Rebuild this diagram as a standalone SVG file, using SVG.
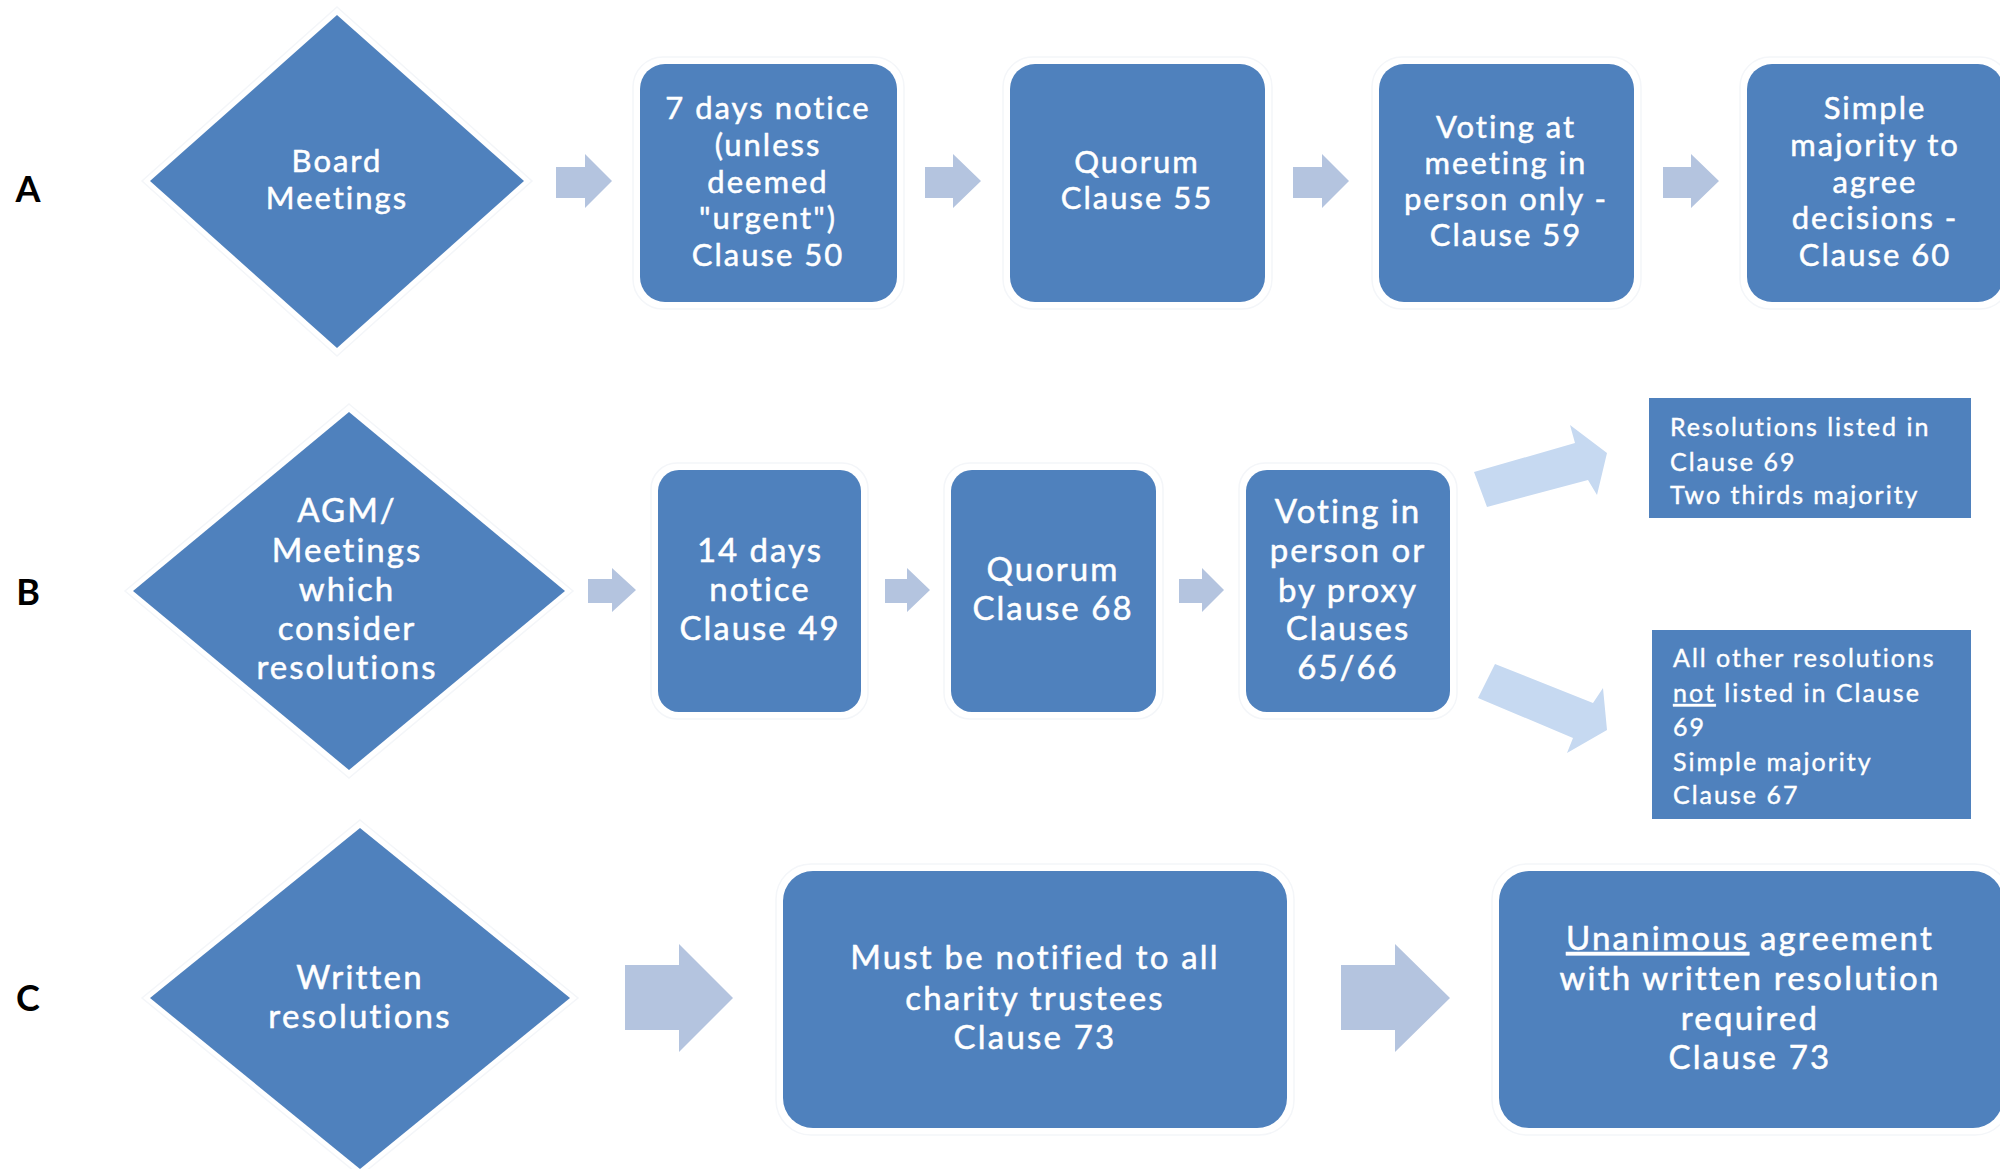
<svg xmlns="http://www.w3.org/2000/svg" width="2000" height="1169" viewBox="0 0 2000 1169">
<style>
.bg{fill:#ffffff}
.node{fill:#4F81BD}
.halo{fill:none;stroke:#F4F6F9;stroke-width:1.5}
.arr{fill:#B4C4DF}
.darr{fill:#C6D9F1}
.lbl{font-family:Lato,"Liberation Sans",sans-serif;font-size:36px;font-weight:bold;fill:#000;text-anchor:middle}
.t{font-family:Lato,"Liberation Sans",sans-serif;fill:#ffffff;stroke:#ffffff;stroke-width:0.5px;text-anchor:middle}
.ta{font-size:31px;letter-spacing:2px}
.tb{font-size:33px;letter-spacing:2px}
.tc{font-size:33px;letter-spacing:2.2px}
.ts{font-family:Lato,"Liberation Sans",sans-serif;fill:#ffffff;stroke:#ffffff;stroke-width:0.4px;font-size:25px;letter-spacing:2px}
.u{text-decoration:underline}
</style>
<rect class="bg" x="0" y="0" width="2000" height="1169"/>

<g id="labels">
<text class="lbl" x="28" y="202">A</text>
<text class="lbl" x="28" y="605">B</text>
<text class="lbl" x="28" y="1011">C</text>
</g>

<g id="connectors">
<polygon class="arr" points="556,167 585,167 585,154 612,181 585,208 585,198 556,198"/>
<polygon class="arr" points="925,167 953,167 953,154 981,181 953,208 953,198 925,198"/>
<polygon class="arr" points="1293,167 1322,167 1322,154 1349,181 1322,208 1322,198 1293,198"/>
<polygon class="arr" points="1663,167 1691,167 1691,154 1719,181 1691,208 1691,198 1663,198"/>
<polygon class="arr" points="588,579 612,579 612,568 636,590 612,612 612,603 588,603"/>
<polygon class="arr" points="885,579 907,579 907,568 930,590 907,612 907,603 885,603"/>
<polygon class="arr" points="1179,579 1202,579 1202,568 1224,590 1202,612 1202,603 1179,603"/>
<polygon class="darr" points="1474,472 1575,443 1570,425 1607,453 1597,495 1588,480 1487,507"/>
<polygon class="darr" points="1495,664 1593,703 1603,688 1607,730 1567,753 1573,738 1478,698"/>
<polygon class="arr" points="625,965 679,965 679,944 733,998 679,1052 679,1030 625,1030"/>
<polygon class="arr" points="1341,965 1395,965 1395,944 1450,998 1395,1052 1395,1030 1341,1030"/>
</g>

<g id="board-meetings">
<polygon class="halo" points="337,7 532,181 337,356 142,181"/>
<polygon class="node" points="337,15 524,181 337,348 150,181"/>
<text class="t ta" x="337" y="172">Board</text>
<text class="t ta" x="337" y="209">Meetings</text>
</g>

<g id="notice-7">
<rect class="halo" x="633" y="57" width="271" height="252" rx="30"/>
<rect class="node" x="640" y="64" width="257" height="238" rx="25"/>
<text class="t ta" x="768" y="119">7 days notice</text>
<text class="t ta" x="768" y="156">(unless</text>
<text class="t ta" x="768" y="193">deemed</text>
<text class="t ta" x="768" y="229">"urgent")</text>
<text class="t ta" x="768" y="266">Clause 50</text>
</g>

<g id="quorum-55">
<rect class="halo" x="1003" y="57" width="269" height="252" rx="30"/>
<rect class="node" x="1010" y="64" width="255" height="238" rx="25"/>
<text class="t ta" x="1137" y="173">Quorum</text>
<text class="t ta" x="1137" y="209">Clause 55</text>
</g>

<g id="voting-59">
<rect class="halo" x="1372" y="57" width="269" height="252" rx="30"/>
<rect class="node" x="1379" y="64" width="255" height="238" rx="25"/>
<text class="t ta" x="1506" y="138">Voting at</text>
<text class="t ta" x="1506" y="174">meeting in</text>
<text class="t ta" x="1506" y="210">person only -</text>
<text class="t ta" x="1506" y="246">Clause 59</text>
</g>

<g id="majority-60">
<rect class="halo" x="1740" y="57" width="270" height="252" rx="30"/>
<rect class="node" x="1747" y="64" width="256" height="238" rx="25"/>
<text class="t ta" x="1875" y="119">Simple</text>
<text class="t ta" x="1875" y="156">majority to</text>
<text class="t ta" x="1875" y="193">agree</text>
<text class="t ta" x="1875" y="229">decisions -</text>
<text class="t ta" x="1875" y="266">Clause 60</text>
</g>

<g id="agm-meetings">
<polygon class="halo" points="349,404 573,591 349,778 125,591"/>
<polygon class="node" points="349,412 565,591 349,770 133,591"/>
<text class="t tb" x="347" y="522">AGM/</text>
<text class="t tb" x="347" y="562">Meetings</text>
<text class="t tb" x="347" y="601">which</text>
<text class="t tb" x="347" y="640">consider</text>
<text class="t tb" x="347" y="679">resolutions</text>
</g>

<g id="notice-14">
<rect class="halo" x="651" y="463" width="217" height="256" rx="26"/>
<rect class="node" x="658" y="470" width="203" height="242" rx="21"/>
<text class="t tb" x="760" y="562">14 days</text>
<text class="t tb" x="760" y="601">notice</text>
<text class="t tb" x="760" y="640">Clause 49</text>
</g>

<g id="quorum-68">
<rect class="halo" x="944" y="463" width="219" height="256" rx="26"/>
<rect class="node" x="951" y="470" width="205" height="242" rx="21"/>
<text class="t tb" x="1053" y="581">Quorum</text>
<text class="t tb" x="1053" y="620">Clause 68</text>
</g>

<g id="voting-proxy">
<rect class="halo" x="1239" y="463" width="218" height="256" rx="26"/>
<rect class="node" x="1246" y="470" width="204" height="242" rx="21"/>
<text class="t tb" x="1348" y="523">Voting in</text>
<text class="t tb" x="1348" y="562">person or</text>
<text class="t tb" x="1348" y="602">by proxy</text>
<text class="t tb" x="1348" y="640">Clauses</text>
<text class="t tb" x="1348" y="679">65/66</text>
</g>

<g id="two-thirds">
<rect class="node" x="1649" y="398" width="322" height="120"/>
<text class="ts" x="1670" y="436">Resolutions listed in</text>
<text class="ts" x="1670" y="471">Clause 69</text>
<text class="ts" x="1670" y="504">Two thirds majority</text>
</g>

<g id="simple-majority">
<rect class="node" x="1652" y="630" width="319" height="189"/>
<text class="ts" x="1673" y="667">All other resolutions</text>
<text class="ts" x="1673" y="702"><tspan class="u">not</tspan> listed in  Clause</text>
<text class="ts" x="1673" y="736">69</text>
<text class="ts" x="1673" y="771">Simple majority</text>
<text class="ts" x="1673" y="804">Clause 67</text>
</g>

<g id="written-resolutions">
<polygon class="halo" points="360,820 578,998 360,1176 142,998"/>
<polygon class="node" points="360,828 570,998 360,1169 150,998"/>
<text class="t tc" x="360" y="989">Written</text>
<text class="t tc" x="360" y="1028">resolutions</text>
</g>

<g id="notify-trustees">
<rect class="halo" x="776" y="864" width="518" height="271" rx="35"/>
<rect class="node" x="783" y="871" width="504" height="257" rx="30"/>
<text class="t tc" x="1035" y="969">Must be notified to all</text>
<text class="t tc" x="1035" y="1010">charity trustees</text>
<text class="t tc" x="1035" y="1049">Clause 73</text>
</g>

<g id="unanimous">
<rect class="halo" x="1492" y="864" width="518" height="271" rx="35"/>
<rect class="node" x="1499" y="871" width="504" height="257" rx="30"/>
<text class="t tc" x="1750" y="950"><tspan class="u">Unanimous</tspan> agreement</text>
<text class="t tc" x="1750" y="990">with written resolution</text>
<text class="t tc" x="1750" y="1030">required</text>
<text class="t tc" x="1750" y="1069">Clause 73</text>
</g>
</svg>
